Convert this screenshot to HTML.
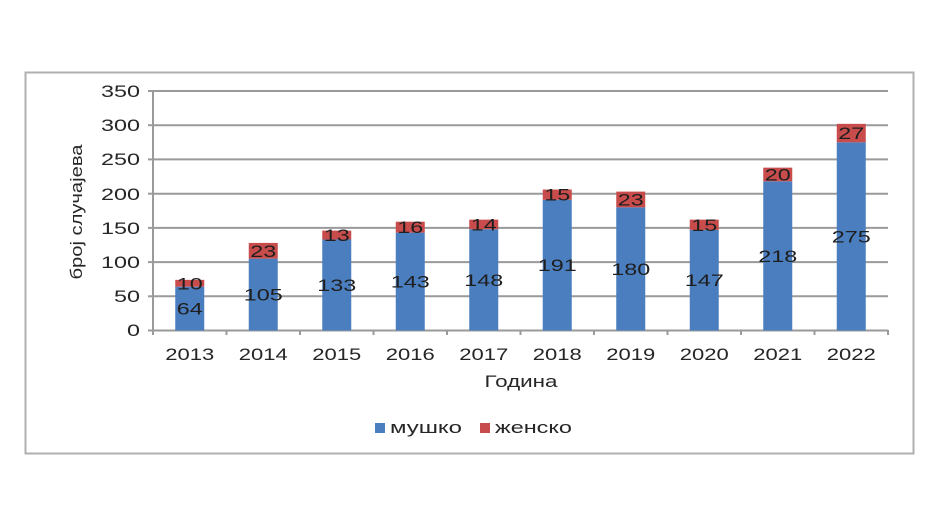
<!DOCTYPE html>
<html><head><meta charset="utf-8"><style>
html,body{margin:0;padding:0;background:#fff;}
svg{display:block;font-family:"Liberation Sans",sans-serif;}
</style></head><body>
<svg width="930" height="525" viewBox="0 0 930 525">
<rect x="25.5" y="72.5" width="888" height="381" fill="#fff" stroke="#b0b0b0" stroke-width="2"/>
<g stroke="#9a9a9a" stroke-width="2">
<line x1="153" y1="91" x2="888" y2="91"/>
<line x1="153" y1="125.2" x2="888" y2="125.2"/>
<line x1="153" y1="159.4" x2="888" y2="159.4"/>
<line x1="153" y1="193.7" x2="888" y2="193.7"/>
<line x1="153" y1="227.9" x2="888" y2="227.9"/>
<line x1="153" y1="262.1" x2="888" y2="262.1"/>
<line x1="153" y1="296.3" x2="888" y2="296.3"/>
<line x1="153" y1="330.5" x2="888" y2="330.5"/>
<line x1="153" y1="91" x2="153" y2="335"/>
<line x1="148" y1="91" x2="153" y2="91"/><line x1="148" y1="125.2" x2="153" y2="125.2"/><line x1="148" y1="159.4" x2="153" y2="159.4"/><line x1="148" y1="193.7" x2="153" y2="193.7"/><line x1="148" y1="227.9" x2="153" y2="227.9"/><line x1="148" y1="262.1" x2="153" y2="262.1"/><line x1="148" y1="296.3" x2="153" y2="296.3"/><line x1="148" y1="330.5" x2="153" y2="330.5"/>
<line x1="226.5" y1="330" x2="226.5" y2="335"/><line x1="300" y1="330" x2="300" y2="335"/><line x1="373.5" y1="330" x2="373.5" y2="335"/><line x1="447" y1="330" x2="447" y2="335"/><line x1="520.5" y1="330" x2="520.5" y2="335"/><line x1="594" y1="330" x2="594" y2="335"/><line x1="667.5" y1="330" x2="667.5" y2="335"/><line x1="741" y1="330" x2="741" y2="335"/><line x1="814.5" y1="330" x2="814.5" y2="335"/><line x1="888" y1="330" x2="888" y2="335"/>
</g>
<g fill="#262626" font-size="17" text-anchor="end">
<text x="140" y="97" textLength="39" lengthAdjust="spacingAndGlyphs">350</text>
<text x="140" y="131" textLength="39" lengthAdjust="spacingAndGlyphs">300</text>
<text x="140" y="165" textLength="39" lengthAdjust="spacingAndGlyphs">250</text>
<text x="140" y="200" textLength="39" lengthAdjust="spacingAndGlyphs">200</text>
<text x="140" y="234" textLength="39" lengthAdjust="spacingAndGlyphs">150</text>
<text x="140" y="268" textLength="39" lengthAdjust="spacingAndGlyphs">100</text>
<text x="140" y="302" textLength="26" lengthAdjust="spacingAndGlyphs">50</text>
<text x="140" y="336" textLength="13" lengthAdjust="spacingAndGlyphs">0</text>
</g>
<text transform="translate(82,212) rotate(-90)" text-anchor="middle" font-size="17" fill="#262626" textLength="135" lengthAdjust="spacingAndGlyphs">број случајева</text>
<g id="bars"></g>
<g fill="#262626" font-size="17" text-anchor="middle" id="years"></g>
<text x="521" y="387" text-anchor="middle" font-size="17" fill="#262626" textLength="73" lengthAdjust="spacingAndGlyphs">Година</text>
<rect x="375" y="423" width="10" height="10" fill="#4a7ebf"/>
<text x="390" y="433" font-size="17" fill="#262626" textLength="72" lengthAdjust="spacingAndGlyphs">мушко</text>
<rect x="480" y="423" width="10" height="10" fill="#c94c4c"/>
<text x="495" y="433" font-size="17" fill="#262626" textLength="77" lengthAdjust="spacingAndGlyphs">женско</text>
<script>
var m=[64,105,133,143,148,191,180,147,218,275],f=[10,23,13,16,14,15,23,15,20,27];
var ns="http://www.w3.org/2000/svg",g=document.getElementById('bars'),yg=document.getElementById('years');
function y(v){return 330.5-v*0.6843;}
function el(t,a,p,txt){var e=document.createElementNS(ns,t);for(var k in a)e.setAttribute(k,a[k]);if(txt)e.textContent=txt;p.appendChild(e);}
for(var i=0;i<10;i++){var cx=153+36.75+73.5*i,x=cx-14.5;
el('rect',{x:x,y:y(m[i]),width:29,height:m[i]*0.6843,fill:'#4a7ebf'},g);
el('rect',{x:x,y:y(m[i]+f[i]),width:29,height:f[i]*0.6843,fill:'#c94c4c'},g);
var w1=String(m[i]).length*13;
el('text',{x:cx,y:y(m[i]/2)+6,'text-anchor':'middle','font-size':17,fill:'#1e1e1e',textLength:w1,lengthAdjust:'spacingAndGlyphs'},g,String(m[i]));
el('text',{x:cx,y:y(m[i]+f[i]/2)+6,'text-anchor':'middle','font-size':17,fill:'#1e1e1e',textLength:26,lengthAdjust:'spacingAndGlyphs'},g,String(f[i]));
el('text',{x:cx,y:360,textLength:49,lengthAdjust:'spacingAndGlyphs'},yg,String(2013+i));}
</script>
</svg>
</body></html>
